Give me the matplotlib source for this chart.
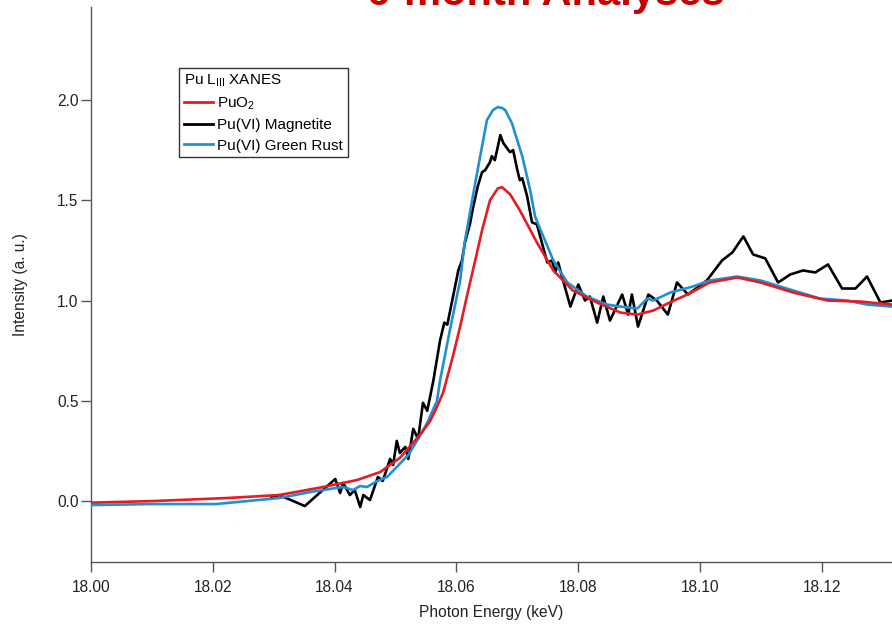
import matplotlib
matplotlib.use("Agg")
import matplotlib.pyplot as plt
from matplotlib import font_manager

# Pu L-III XANES spectra (photon energy in keV, normalised intensity)
puo2_energy = [18.0000, 18.0103, 18.0223, 18.0309, 18.0381, 18.0437, 18.0475, 18.0507,
               18.0540, 18.0557, 18.0568, 18.0578, 18.0594, 18.0606, 18.0617, 18.0630,
               18.0642, 18.0655, 18.0668, 18.0675, 18.0688, 18.0704, 18.0718, 18.0732,
               18.0759, 18.0791, 18.0831, 18.0869, 18.0897, 18.0923, 18.0950, 18.0979,
               18.1016, 18.1061, 18.1099, 18.1153, 18.1209, 18.1263, 18.1315]
puo2_intensity = [-0.008, 0.0, 0.015, 0.03, 0.07, 0.105, 0.145, 0.215,
                  0.33, 0.40, 0.47, 0.54, 0.72, 0.87, 1.02, 1.19,
                  1.35, 1.50, 1.56, 1.565, 1.53, 1.45, 1.37, 1.29,
                  1.15, 1.05, 0.99, 0.94, 0.93, 0.95, 0.99, 1.03,
                  1.09, 1.115, 1.09, 1.04, 1.00, 0.995, 0.98]

magnetite_energy = [18.0296, 18.0309, 18.0351, 18.0401, 18.0409, 18.0414, 18.0425, 18.0433,
                    18.0442, 18.0447, 18.0458, 18.0471, 18.0479, 18.0491, 18.0496, 18.0502,
                    18.0507, 18.0516, 18.0521, 18.0529, 18.0537, 18.0545, 18.0552, 18.0562,
                    18.0573, 18.0580, 18.0585, 18.0593, 18.0603, 18.0609, 18.0614, 18.0622,
                    18.0627, 18.0635, 18.0642, 18.0647, 18.0655, 18.0658, 18.0663, 18.0672,
                    18.0677, 18.0683, 18.0688, 18.0693, 18.0700, 18.0704, 18.0708, 18.0716,
                    18.0724, 18.0732, 18.0749, 18.0757, 18.0762, 18.0767, 18.0775, 18.0787,
                    18.0800, 18.0811, 18.0819, 18.0831, 18.0841, 18.0852, 18.0872, 18.0882,
                    18.0888, 18.0898, 18.0915, 18.0929, 18.0947, 18.0962, 18.0980, 18.1011,
                    18.1036, 18.1053, 18.1071, 18.1087, 18.1107, 18.1128, 18.1148, 18.1169,
                    18.1189, 18.1210, 18.1233, 18.1255, 18.1274, 18.1296, 18.1315]
magnetite_intensity = [0.02, 0.03, -0.025, 0.11, 0.04, 0.09, 0.03, 0.055,
                       -0.03, 0.03, 0.005, 0.12, 0.10, 0.21, 0.18, 0.30,
                       0.24, 0.27, 0.21, 0.36, 0.31, 0.49, 0.45, 0.60,
                       0.80, 0.89, 0.88, 1.00, 1.15, 1.20, 1.29, 1.38,
                       1.46, 1.57, 1.64, 1.65, 1.69, 1.72, 1.70, 1.825,
                       1.785, 1.76, 1.74, 1.75, 1.65, 1.60, 1.61, 1.52,
                       1.39, 1.38, 1.19, 1.20, 1.14, 1.19, 1.10, 0.97,
                       1.08, 1.00, 1.02, 0.89, 1.02, 0.90, 1.03, 0.93,
                       1.03, 0.87, 1.03, 1.00, 0.93, 1.09, 1.03, 1.10,
                       1.20, 1.24, 1.32, 1.23, 1.21, 1.09, 1.13, 1.15,
                       1.14, 1.18, 1.06, 1.06, 1.12, 0.99, 1.00]

green_rust_energy = [18.0000, 18.0103, 18.0205, 18.0309, 18.0360, 18.0402, 18.0414, 18.0430,
                     18.0442, 18.0453, 18.0470, 18.0486, 18.0502, 18.0521, 18.0535, 18.0552,
                     18.0568, 18.0573, 18.0589, 18.0606, 18.0614, 18.0631, 18.0650, 18.0660,
                     18.0668, 18.0675, 18.0680, 18.0691, 18.0708, 18.0721, 18.0729, 18.0737,
                     18.0759, 18.0782, 18.0814, 18.0847, 18.0869, 18.0897, 18.0913, 18.0923,
                     18.0951, 18.0988, 18.1016, 18.1061, 18.1099, 18.1153, 18.1197, 18.1241,
                     18.1274, 18.1315]
green_rust_intensity = [-0.02, -0.015, -0.015, 0.015, 0.045, 0.065, 0.07, 0.055,
                        0.075, 0.07, 0.10, 0.12, 0.17, 0.23, 0.30, 0.39,
                        0.50, 0.60, 0.85, 1.10, 1.30, 1.59, 1.90, 1.95,
                        1.965, 1.96, 1.95, 1.885, 1.72, 1.55, 1.42, 1.36,
                        1.20, 1.09, 1.02, 0.98, 0.97, 0.96, 1.01, 1.00,
                        1.04, 1.07, 1.10, 1.12, 1.10, 1.05, 1.01, 1.00,
                        0.98, 0.97]

x_ticks = [18.00, 18.02, 18.04, 18.06, 18.08, 18.10, 18.12]
y_ticks = [0.0, 0.5, 1.0, 1.5, 2.0]

installed = {f.name for f in font_manager.fontManager.ttflist}
narrow = "Liberation Sans Narrow" if "Liberation Sans Narrow" in installed else "Liberation Sans"

plt.rcParams["font.family"] = [narrow, "DejaVu Sans"]
plt.rcParams["mathtext.fontset"] = "custom"
plt.rcParams["mathtext.rm"] = narrow
plt.rcParams["mathtext.it"] = narrow

RED = "#e41c23"
BLUE = "#2190d2"
SPINE = "#555555"

fig = plt.figure(figsize=(8.92, 6.24), dpi=100)
ax = fig.add_axes([91 / 892, 1 - 562 / 624, 801 / 892, 555 / 624])

ax.plot(magnetite_energy, magnetite_intensity, color="black", lw=1.9,
        label="Pu(VI) Magnetite", zorder=2)
ax.plot(green_rust_energy, green_rust_intensity, color=BLUE, lw=1.9,
        label="Pu(VI) Green Rust", zorder=3)
ax.plot(puo2_energy, puo2_intensity, color=RED, lw=1.9,
        label="PuO$_2$", zorder=4)

ax.set_xlim(18.0, 18.1315)
ax.set_ylim(-0.304, 2.464)
ax.set_xticks(x_ticks)
ax.set_xticklabels([f"{v:.2f}" for v in x_ticks])
ax.set_yticks(y_ticks)
ax.set_yticklabels([f"{v:.1f}" for v in y_ticks])

for side in ("top", "right"):
    ax.spines[side].set_visible(False)
for side in ("left", "bottom"):
    ax.spines[side].set_color(SPINE)
    ax.spines[side].set_linewidth(1.0)

ax.tick_params(axis="both", direction="out", length=7, width=1.0, color=SPINE,
               labelsize=11.2, labelcolor="#222222")
ax.tick_params(axis="y", pad=2)
ax.tick_params(axis="x", pad=6)

ax.set_xlabel("Photon Energy (keV)", fontsize=11.2, color="#222222", labelpad=7)
ax.set_ylabel("Intensity (a. u.)", fontsize=11.2, color="#222222", labelpad=21)

handles, labels = ax.get_legend_handles_labels()
order = [2, 0, 1]
leg = ax.legend([handles[i] for i in order], [labels[i] for i in order],
                title="Pu L$_{\\mathrm{III}}$ XANES", loc="upper left",
                bbox_to_anchor=((179 - 91) / 801, (562 - 68) / 555),
                borderaxespad=0, fontsize=11, title_fontsize=11,
                frameon=True, fancybox=False, edgecolor="black",
                handlelength=1.9, handletextpad=0.3, labelspacing=0.42,
                borderpad=0.3, alignment="left")
leg.get_frame().set_linewidth(1.0)
for line in leg.get_lines():
    line.set_linewidth(2.0)

fig.text(546 / 892, 1 - 4.5 / 624, "6-month Analyses", color="#c80000",
         fontsize=30, fontweight="bold", family=["Liberation Sans", "DejaVu Sans"],
         ha="center", va="baseline")

fig.savefig("out.png", dpi=100, facecolor="white")
